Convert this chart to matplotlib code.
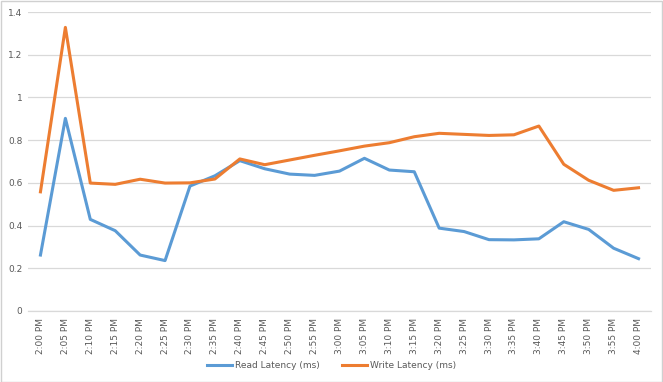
import matplotlib.pyplot as plt
import numpy as np

# Time labels (every 5 minutes)
times = ['2:00 PM', '2:05 PM', '2:10 PM', '2:15 PM', '2:20 PM', '2:25 PM', '2:30 PM',
         '2:35 PM', '2:40 PM', '2:45 PM', '2:50 PM', '2:55 PM', '3:00 PM', '3:05 PM',
         '3:10 PM', '3:15 PM', '3:20 PM', '3:25 PM', '3:30 PM', '3:35 PM', '3:40 PM',
         '3:45 PM', '3:50 PM', '3:55 PM', '4:00 PM']

read_latency = [0.262, 0.902, 0.429, 0.376, 0.262, 0.236, 0.585, 0.633, 0.704, 0.666,
                0.641, 0.635, 0.655, 0.715, 0.660, 0.652, 0.388, 0.372, 0.334, 0.333,
                0.338, 0.418, 0.382, 0.294, 0.245]
write_latency = [0.558, 1.328, 0.599, 0.593, 0.617, 0.599, 0.600, 0.618, 0.712, 0.685,
                 0.707, 0.729, 0.750, 0.772, 0.788, 0.816, 0.832, 0.827, 0.822, 0.825,
                 0.866, 0.687, 0.612, 0.565, 0.577]

grey = '#595959'
grid_col = '#d9d9d9'

fig = plt.figure(figsize=(6.63, 3.82), dpi=100)
ax = fig.add_axes([28 / 663, 1 - 311 / 382, 623 / 663, 299 / 382])

x = np.arange(len(times))
ax.plot(x, read_latency, color='#5B9BD5', lw=2.2, label='Read Latency (ms)', solid_joinstyle='round')
ax.plot(x, write_latency, color='#ED7D31', lw=2.2, label='Write Latency (ms)', solid_joinstyle='round')

ax.set_xlim(-0.5, len(times) - 0.5)
ax.set_ylim(0, 1.4)
ax.set_yticks(np.arange(0, 1.41, 0.2))
ax.set_yticklabels(['0', '0.2', '0.4', '0.6', '0.8', '1', '1.2', '1.4'])
ax.set_xticks(x)
ax.set_xticklabels(times, rotation=90)
ax.tick_params(axis='both', length=0, colors=grey, labelsize=6.5)
ax.tick_params(axis='y', pad=4)
ax.tick_params(axis='x', pad=5)

ax.grid(axis='y', color=grid_col, lw=0.9)
ax.set_axisbelow(True)
for side in ['top', 'right', 'left']:
    ax.spines[side].set_visible(False)
ax.spines['bottom'].set_color(grid_col)
ax.spines['bottom'].set_linewidth(0.9)

fig.legend(loc='center', bbox_to_anchor=(0.5, 1 - 366 / 382), ncol=2, frameon=False,
           fontsize=6.5, labelcolor=grey, handlelength=2.8, columnspacing=2.5, handletextpad=0.3)

# light border around the chart
fig.patches.append(plt.Rectangle((0.001, 0.001), 0.997, 0.996, transform=fig.transFigure,
                                 fill=False, edgecolor='#d0d0d0', lw=1))

fig.savefig('out.png', dpi=100)
